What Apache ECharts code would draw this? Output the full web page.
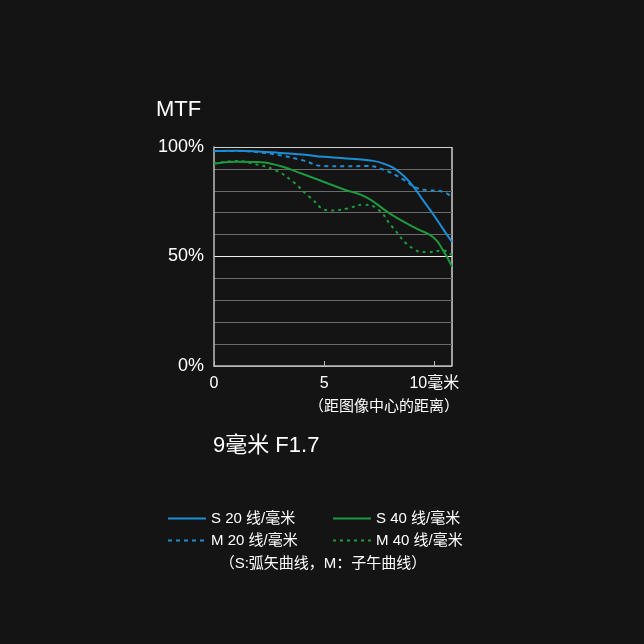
<!DOCTYPE html>
<html>
<head>
<meta charset="utf-8">
<script src="https://cdn.jsdelivr.net/npm/echarts@6/dist/echarts.min.js"></script>
<style>
  html, body { margin: 0; padding: 0; background: #141414; }
  #chart { width: 644px; height: 644px; }
</style>
</head>
<body>
<div id="chart"></div>
<script>
const FONT = "Liberation Sans, Noto Sans CJK SC, sans-serif";

// distance from image centre (mm) and MTF (%)
const s20X = [0, 1, 2, 3, 4, 5, 6, 7, 7.7, 8.4, 9, 9.5, 10, 10.4, 10.8];
const s20Y = [98.2, 98.3, 98, 97.3, 96.6, 95.5, 94.8, 94, 92.4, 88.6, 82.5, 75.5, 68.5, 62.5, 56.6];
const m20X = [0, 1, 2, 3, 4, 5, 6, 6.9, 7.7, 8.6, 9.2, 9.7, 10.3, 10.8];
const m20Y = [98.2, 98.2, 97.6, 96.2, 94, 91.3, 91.2, 91.3, 89.6, 85.1, 81.3, 80.3, 79.8, 77.1];
const s40X = [0, 1, 2, 3, 4, 5, 5.9, 6.9, 8, 9.2, 9.95, 10.4, 10.8];
const s40Y = [92.4, 93.3, 93.1, 91.3, 87.8, 84, 80.6, 77.1, 69.5, 62.7, 58.8, 52.7, 45.4];
const m40X = [0, 1, 1.9, 2.8, 3.6, 4.35, 5.26, 6, 6.77, 7.4, 8.1, 9.05, 9.65, 10.4, 10.8];
const m40Y = [92.4, 93.6, 92.1, 89.3, 84, 77.1, 71, 71.8, 73.6, 71.8, 63.4, 53.5, 52, 52.7, 50.5];

const seriesNames = ["S 20 线/毫米", "M 20 线/毫米", "S 40 线/毫米", "M 40 线/毫米"];
const xTickLabels = { 0: "0", 5: "5", 10: "10毫米" };
const yTickLabels = { 0: "0%", 50: "50%", 100: "100%" };

const BLUE = "#1a8fd6";
const GREEN = "#1b9a3e";

function pairs(xs, ys) {
  return xs.map((x, i) => [x, ys[i]]);
}

// one colour per split line, 0% .. 100%
const splitColors = ["#bbbbbb", "#6a6a6a", "#6a6a6a", "#6a6a6a", "#6a6a6a", "#f0f0f0",
  "#6a6a6a", "#6a6a6a", "#6a6a6a", "#6a6a6a", "#d0d0d0"];

const chart = echarts.init(document.getElementById("chart"));

const legendBase = {
  orient: "vertical",
  top: 506,
  itemWidth: 38,
  itemHeight: 10,
  itemGap: 7,
  itemStyle: { opacity: 0 },
  textStyle: { color: "#ffffff", fontSize: 15, fontFamily: FONT }
};

const option = {
  backgroundColor: "#141414",
  animation: false,
  textStyle: { fontFamily: FONT },
  grid: { left: 214, right: 192, top: 147, bottom: 278, show: false },
  xAxis: {
    type: "value",
    min: 0,
    max: 10.8,
    interval: 5,
    axisLine: { show: true, lineStyle: { color: "#bbbbbb", width: 1.5 } },
    axisTick: { show: true, inside: true, length: 5, lineStyle: { color: "#bbbbbb" } },
    splitLine: { show: false },
    axisLabel: {
      color: "#ffffff",
      fontSize: 16,
      fontFamily: FONT,
      margin: 10,
      showMaxLabel: false,
      formatter: (v) => xTickLabels[v] !== undefined ? xTickLabels[v] : ""
    }
  },
  yAxis: {
    type: "value",
    min: 0,
    max: 100,
    interval: 10,
    axisLine: { show: true, lineStyle: { color: "#bbbbbb", width: 1.5 } },
    axisTick: { show: false },
    splitLine: { show: true, lineStyle: { color: splitColors, width: 1.2 } },
    axisLabel: {
      color: "#ffffff",
      fontSize: 18,
      fontFamily: FONT,
      margin: 10,
      formatter: (v) => yTickLabels[v] !== undefined ? yTickLabels[v] : ""
    }
  },
  legend: [
    Object.assign({ data: [seriesNames[0], seriesNames[1]], left: 162 }, legendBase),
    Object.assign({ data: [seriesNames[2], seriesNames[3]], left: 327 }, legendBase)
  ],
  graphic: [
    {
      type: "rect",
      shape: { x: 452, y: 147, width: 0, height: 219 },
      style: { stroke: "#d0d0d0", lineWidth: 1.5, fill: null },
      silent: true
    },
    {
      type: "text", left: 156, top: 99,
      style: { text: "MTF", fill: "#ffffff", font: "22px " + FONT }
    },
    {
      type: "text", x: 384, y: 407,
      style: { text: "（距图像中心的距离）", fill: "#ffffff", font: "15px " + FONT, align: "center", verticalAlign: "middle" }
    },
    {
      type: "text", left: 213, top: 435,
      style: { text: "9毫米 F1.7", fill: "#ffffff", font: "22px " + FONT }
    },
    {
      type: "text", x: 323, y: 564,
      style: { text: "（S:弧矢曲线，M：子午曲线）", fill: "#ffffff", font: "15px " + FONT, align: "center", verticalAlign: "middle" }
    }
  ],
  series: [
    {
      name: seriesNames[0], type: "line", smooth: 0.5, symbol: "none",
      data: pairs(s20X, s20Y),
      lineStyle: { color: BLUE, width: 2 }, itemStyle: { color: BLUE }
    },
    {
      name: seriesNames[1], type: "line", smooth: 0.5, symbol: "none",
      data: pairs(m20X, m20Y),
      lineStyle: { color: BLUE, width: 2, type: [4, 4] }, itemStyle: { color: BLUE }
    },
    {
      name: seriesNames[2], type: "line", smooth: 0.5, symbol: "none",
      data: pairs(s40X, s40Y),
      lineStyle: { color: GREEN, width: 2 }, itemStyle: { color: GREEN }
    },
    {
      name: seriesNames[3], type: "line", smooth: 0.5, symbol: "none",
      data: pairs(m40X, m40Y),
      lineStyle: { color: GREEN, width: 2, type: [3, 4] }, itemStyle: { color: GREEN }
    }
  ]
};

chart.setOption(option);
</script>
</body>
</html>
